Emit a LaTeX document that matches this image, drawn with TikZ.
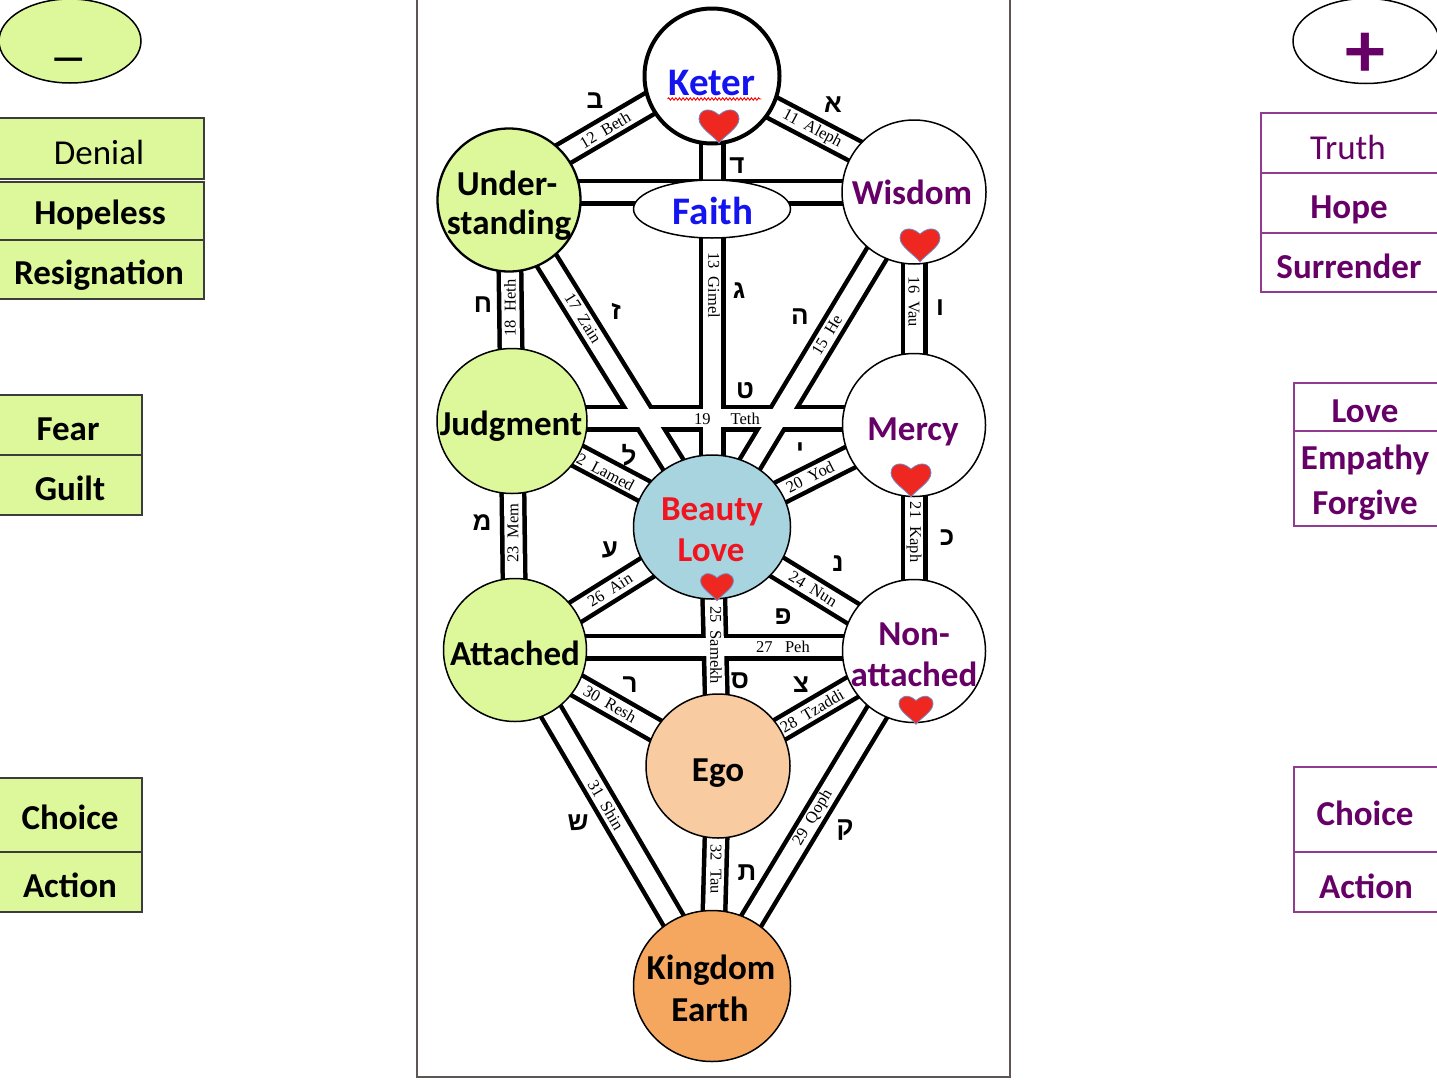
\documentclass[tikz,border=0pt]{standalone}
\usepackage{fontspec}
\setmainfont{Carlito}
\newfontfamily\lblfont{Liberation Serif}
\newfontfamily\hebfont[Script=Hebrew]{Liberation Sans}
\usetikzlibrary{shapes.geometric,decorations.pathmorphing,calc}
\definecolor{lgreen}{RGB}{221,248,155}
\definecolor{ppl}{RGB}{102,0,102}
\definecolor{pplline}{RGB}{145,60,145}
\definecolor{kblue}{RGB}{20,20,240}
\definecolor{bred}{RGB}{240,20,30}
\definecolor{bblue}{RGB}{168,212,224}
\definecolor{egoc}{RGB}{248,203,160}
\definecolor{kingc}{RGB}{245,167,96}
\definecolor{heartred}{RGB}{238,40,32}
\definecolor{heartedge}{RGB}{110,140,200}
\definecolor{boxline}{RGB}{60,60,60}
\definecolor{framec}{RGB}{95,85,85}
\pgfdeclarelayer{back}
\pgfsetlayers{back,main}
\begin{document}
\begin{tikzpicture}[x=1pt,y=-1pt,
  sef/.style={circle, draw=black, line width=1.5pt, inner sep=0pt, fill=white},
  ell/.style={ellipse, draw=black, line width=1.5pt, inner sep=0pt, fill=white},
  tt/.style={anchor=base, inner sep=0pt, font=\fontsize{35}{40}\selectfont\bfseries},
  ttr/.style={anchor=base, inner sep=0pt, font=\fontsize{35}{40}\selectfont},
  lbl/.style={inner sep=0pt, font=\lblfont\fontsize{16.5}{17}\selectfont},
  heb/.style={inner sep=0pt, font=\hebfont\bfseries\fontsize{26}{28}\selectfont},
  chanb/.style={line width=27pt, draw=black},
  chanw/.style={line width=18pt, draw=white},
  lbox/.style={draw=boxline, line width=1.6pt, fill=lgreen, inner sep=0pt},
  rbox/.style={draw=pplline, line width=1.6pt, fill=white, inner sep=0pt},
  heart/.pic={\filldraw[fill=heartred, draw=heartedge, line width=0.8pt]
    (0,18) .. controls (-5,11) and (-20,3) .. (-20,-6)
    .. controls (-20,-15) and (-10,-19) .. (0,-10)
    .. controls (10,-19) and (20,-15) .. (20,-6)
    .. controls (20,3) and (5,11) .. (0,18) -- cycle;}
]
\useasboundingbox (0,0) rectangle (1437,1079);

% ---------- sefirot ----------
\node[sef, line width=4pt, minimum size=135pt] (ket) at (712,76) {};
\node[sef, minimum size=144pt] (wis) at (914,192) {};
\node[sef, fill=lgreen, line width=2.3pt, minimum size=143pt] (und) at (509,200) {};
\node[ell, minimum width=157pt, minimum height=58pt] (fai) at (712,209) {};
\node[ell, fill=lgreen, minimum width=150pt, minimum height=145pt] (jud) at (512,421) {};
\node[sef, minimum size=143pt] (mer) at (914,425) {};
\node[ell, fill=bblue, minimum width=157pt, minimum height=144pt] (bea) at (712,527) {};
\node[sef, fill=lgreen, minimum size=143pt] (att) at (515,650) {};
\node[sef, minimum size=143pt] (non) at (914,651) {};
\node[sef, fill=egoc, minimum size=144pt] (ego) at (718,766) {};
\node[ell, fill=kingc, minimum width=157pt, minimum height=151pt] (kin) at (712,986) {};

% ---------- texts in sefirot ----------
\node[tt, text=kblue, font=\fontsize{39}{44}\selectfont\bfseries] (ketT) at (712,95) {Keter};
\node[tt, text=kblue, font=\fontsize{39}{44}\selectfont\bfseries] (faiT) at (713,224) {Faith};
\node[tt] (undT1) at (507,195) {Under-};
\node[tt] (undT2) at (509,234) {standing};
\node[tt, text=ppl] (wisT) at (912,204) {Wisdom};
\node[tt] (judT) at (511,435) {Judgment};
\node[tt, text=ppl] (merT) at (913,440) {Mercy};
\node[tt, text=bred] (beaT1) at (712,520) {Beauty};
\node[tt, text=bred] (beaT2) at (711,561) {Love};
\node[tt] (attT) at (515,665) {Attached};
\node[tt, text=ppl] (nonT1) at (914,645) {Non-};
\node[tt, text=ppl] (nonT2) at (914,686) {attached};
\node[tt] (egoT) at (718,781) {Ego};
\node[tt] (kinT1) at (711,979) {Kingdom};
\node[tt] (kinT2) at (710,1021) {Earth};

\draw[red, line width=0.9pt, decorate, decoration={snake, amplitude=1.2pt, segment length=3.6pt}]
  ($(ketT.base west)+(-1,4)$) -- ($(ketT.base east)+(6,4)$);

% ---------- hearts ----------
\pic at (719,125) {heart};
\pic at (920,244) {heart};
\pic at (911,479) {heart};
\pic[scale=0.82] at (717,586) {heart};
\pic[scale=0.85] at (916,709) {heart};

% ---------- hebrew letters ----------
\node[heb] (hb) at (595,101) {ב};
\node[heb] (ha) at (833,105) {א};
\node[heb] (hd) at (737,166) {ד};
\node[heb] (hg) at (739,291) {ג};
\node[heb] (hh) at (800,317) {ה};
\node[heb] (hv) at (940,308) {ו};
\node[heb] (hch) at (483,305) {ח};
\node[heb] (hz) at (616,311) {ז};
\node[heb] (ht) at (745,391) {ט};
\node[heb] (hl) at (629,455) {ל};
\node[heb] (hy) at (800,451) {י};
\node[heb] (hm) at (482,523) {מ};
\node[heb] (hk) at (947,538) {כ};
\node[heb] (hay) at (610,550) {ע};
\node[heb] (hn) at (838,564) {נ};
\node[heb] (hp) at (783,617) {פ};
\node[heb] (hs) at (740,681) {ס};
\node[heb] (hr) at (630,685) {ר};
\node[heb] (hts) at (801,685) {צ};
\node[heb] (hsh) at (578,823) {ש};
\node[heb] (hq) at (845,830) {ק};
\node[heb] (hta) at (747,873) {ת};

% ---------- left column ----------
\node[ell, fill=lgreen, minimum width=142pt, minimum height=84pt] (minusE) at (70,41) {};
\node[tt, font=\fontsize{38}{40}\selectfont\bfseries] (minusT) at (69,70) {—};
\node[lbox, minimum width=206pt, minimum height=61pt] (denB) at (101,148.5) {};
\node[lbox, minimum width=206pt, minimum height=58pt] (hopB) at (101,211) {};
\node[lbox, minimum width=206pt, minimum height=59pt] (resB) at (101,269.5) {};
\node[ttr] (denT) at (99,164) {Denial};
\node[tt] (hopT) at (100,224) {Hopeless};
\node[tt] (resT) at (99,284) {Resignation};
\node[lbox, minimum width=144pt, minimum height=60pt] (fearB) at (70,425) {};
\node[lbox, minimum width=144pt, minimum height=60pt] (guiltB) at (70,485) {};
\node[tt] (fearT) at (68,440) {Fear};
\node[tt] (guiltT) at (70,500) {Guilt};
\node[lbox, minimum width=144pt, minimum height=74pt] (choLB) at (70,815) {};
\node[lbox, minimum width=144pt, minimum height=60pt] (actLB) at (70,882) {};
\node[tt] (choLT) at (70,829) {Choice};
\node[tt] (actLT) at (70,897) {Action};

% ---------- right column ----------
\node[ell, minimum width=146pt, minimum height=85pt] (plusE) at (1366,41) {};
\node[inner sep=0pt, text=ppl, font=\fontsize{80}{84}\selectfont\bfseries] (plusT) at (1365,55) {+};
\node[rbox, minimum width=184pt, minimum height=60pt] (truB) at (1353,143) {};
\node[rbox, minimum width=184pt, minimum height=60pt] (hopRB) at (1353,203) {};
\node[rbox, minimum width=184pt, minimum height=59pt] (surB) at (1353,262.5) {};
\node[ttr, text=ppl] (truT) at (1348,159) {Truth};
\node[tt, text=ppl] (hopRT) at (1349,218) {Hope};
\node[tt, text=ppl] (surT) at (1349,278) {Surrender};
\node[rbox, minimum width=151pt, minimum height=48pt] (lovB) at (1369.5,407) {};
\node[rbox, minimum width=151pt, minimum height=95pt] (empB) at (1369.5,478.5) {};
\node[tt, text=ppl] (lovT) at (1365,422) {Love};
\node[tt, text=ppl] (empT) at (1365,469) {Empathy};
\node[tt, text=ppl] (forT) at (1365,514) {Forgive};
\node[rbox, minimum width=151pt, minimum height=85pt] (choRB) at (1369.5,809.5) {};
\node[rbox, minimum width=151pt, minimum height=60pt] (actRB) at (1369.5,882) {};
\node[tt, text=ppl] (choRT) at (1365,825) {Choice};
\node[tt, text=ppl] (actRT) at (1366,898) {Action};

% ---------- paths (background layer) ----------
\begin{pgfonlayer}{back}
\fill[white] (0,0) rectangle (1437,1079);
\draw[framec, line width=1.5pt] (417,-5) rectangle (1010,1077);
\coordinate (bethA) at ($(und.center)+(0,-14)$);
\coordinate (bethB) at ($(ket.center)+(0,-9)$);
\coordinate (alephB) at ($(wis.center)+(0,-10)$);
\coordinate (dalA) at (und.center |- wis.center);
\coordinate (tethA) at ($(jud.center)+(0,-3)$);
\coordinate (tethB) at ($(mer.center)+(0,-7)$);
\coordinate (pehA) at ($(att.center)+(0,-3)$);
\coordinate (pehB) at ($(non.center)+(0,-4)$);
\foreach \s in {chanb,chanw}{
  \foreach \a/\b in {bethA/bethB, ket/alephB, dalA/wis, ket/bea, wis/bea, wis/mer,
      und/bea, und/jud, tethA/tethB, mer/bea, mer/non, jud/bea, jud/att, bea/non,
      bea/ego, bea/att, pehA/pehB, non/ego, non/kin, att/ego, att/kin, ego/kin}
    \draw[\s] (\a.center) -- (\b.center);
}
\node[lbl, rotate=30.4] (l12) at (605,130) {12~~Beth};
\node[lbl, rotate=-27.7] (l11) at (812,129) {11~~Aleph};
\node[lbl, rotate=-90] (l13) at (714,285) {13~~Gimel};
\node[lbl, rotate=58.8] (l15) at (827,335) {15~~He};
\node[lbl, rotate=-90] (l16) at (914,302) {16~~Vau};
\node[lbl, rotate=-58.3] (l17) at (583,318) {17~~Zain};
\node[lbl, rotate=90] (l18) at (510,308) {18~~Heth};
\node[lbl] (l19) at (727,419) {19\hspace{20pt}Teth};
\node[lbl, rotate=26.7] (l20) at (810,477) {20~~Yod};
\node[lbl, rotate=-90] (l21) at (914,532) {21~~Kaph};
\node[lbl, rotate=-28] (l22) at (602,470) {22~~Lamed};
\node[lbl, rotate=90] (l23) at (513,533) {23~~Mem};
\node[lbl, rotate=-31.4] (l24) at (813,589) {24~~Nun};
\node[lbl, rotate=-90] (l25) at (716,645) {25~~Samekh};
\node[lbl, rotate=32] (l26) at (610,590) {26~~Ain};
\node[lbl] (l27) at (783,647) {27~~~Peh};
\node[lbl, rotate=30.4] (l28) at (812,711) {28~~Tzaddi};
\node[lbl, rotate=58.9] (l29) at (813,818) {29~~Qoph};
\node[lbl, rotate=-29.7] (l30) at (610,704) {30~~Resh};
\node[lbl, rotate=-59.6] (l31) at (606,805) {31~~Shin};
\node[lbl, rotate=-90] (l32) at (716,869) {32~~Tau};
\end{pgfonlayer}
\end{tikzpicture}
\end{document}
